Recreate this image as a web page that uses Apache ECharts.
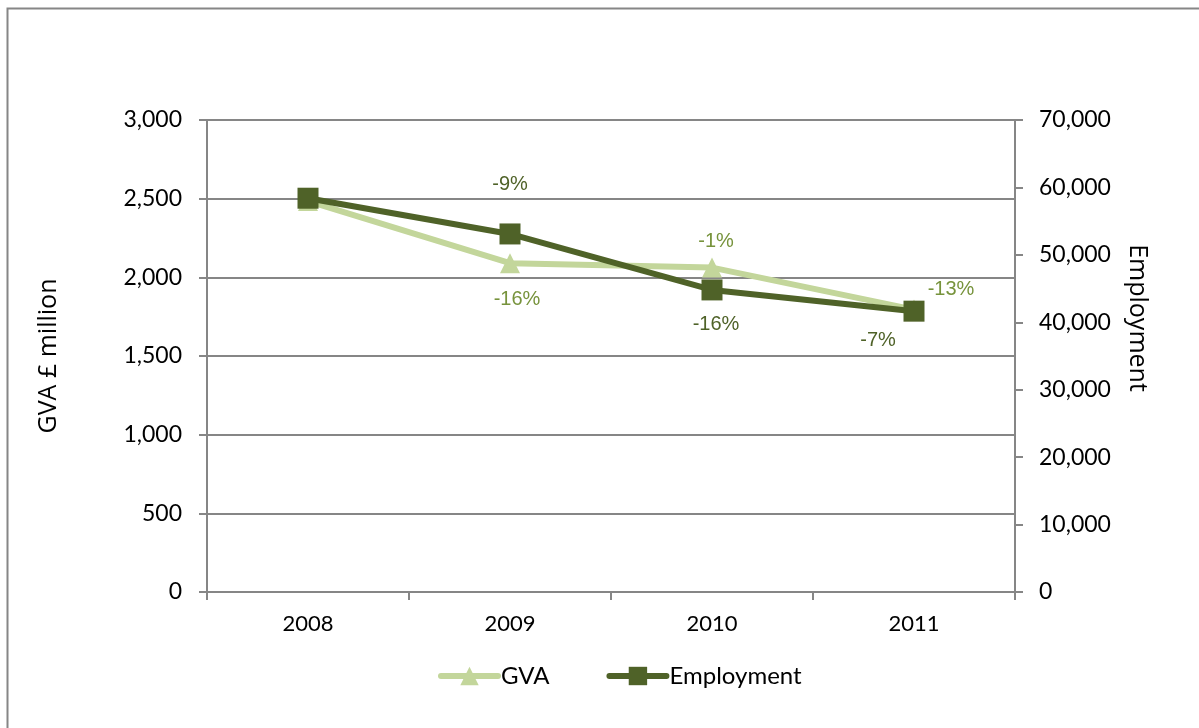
<!DOCTYPE html>
<html>
<head>
<meta charset="utf-8">
<script src="https://cdn.jsdelivr.net/npm/echarts@6/dist/echarts.min.js"></script>
<style>html,body{margin:0;padding:0;background:#fff;}#c{width:1199px;height:728px;}</style>
</head>
<body>
<div id="c"></div>
<script>
const years = ['2008', '2009', '2010', '2011'];
const gva = [2485, 2090, 2062, 1795];
const employment = [58400, 53100, 44800, 41650];
const gvaLabels = ['', '-16%', '-1%', '-13%'];
const empLabels = ['', '-9%', '-16%', '-7%'];
const gvaLabelOffsets = [[0, 0], [7, 36], [4, -26], [37, -20]];
const empLabelOffsets = [[0, 0], [0, -49], [4, 35], [-36, 29]];

const gvaColor = '#c3d69b';
const empColor = '#4f6228';
const gvaLabelColor = '#77933c';
const axisGray = '#868686';
const tickFont = 'Lato, "Open Sans", sans-serif';

function fmt(v) { return Number(v).toLocaleString('en-US'); }

function buildData(values, labels, offsets, color) {
  return values.map((v, i) => ({
    value: v,
    label: {
      show: labels[i] !== '',
      formatter: labels[i],
      position: 'inside',
      offset: offsets[i],
      color: color,
      fontSize: 20,
      fontFamily: '"Liberation Sans", Arial, sans-serif'
    }
  }));
}

const chart = echarts.init(document.getElementById('c'), null, { renderer: 'canvas' });
chart.setOption({
  backgroundColor: '#fff',
  animation: false,
  graphic: [{
    type: 'rect',
    shape: { x: 7.5, y: 8.5, width: 1300, height: 800 },
    style: { fill: 'none', stroke: axisGray, lineWidth: 2 },
    silent: true
  }],
  grid: { left: 207, right: 184, top: 120, bottom: 136, containLabel: false },
  legend: {
    top: 659,
    left: 433,
    itemWidth: 57,
    itemHeight: 23,
    itemGap: 57,
    lineStyle: { width: 6, cap: 'round' },
    textStyle: { fontSize: 24, fontFamily: tickFont, color: '#000', padding: [0, 0, 0, -2] },
    data: ['GVA', 'Employment']
  },
  xAxis: {
    type: 'category',
    data: years,
    boundaryGap: true,
    axisLine: { lineStyle: { color: axisGray, width: 2 } },
    axisTick: { show: true, length: 8, lineStyle: { color: axisGray, width: 2 } },
    axisLabel: { margin: 21, fontSize: 22, fontFamily: tickFont, color: '#000' }
  },
  yAxis: [{
    type: 'value',
    min: 0, max: 3000, interval: 500,
    name: 'GVA £ million',
    nameLocation: 'middle',
    nameRotate: 90,
    nameGap: 146,
    nameTextStyle: { fontSize: 25, fontFamily: '"Open Sans", sans-serif', color: '#000' },
    axisLine: { show: true, lineStyle: { color: axisGray, width: 2 } },
    axisTick: { show: true, length: 8, lineStyle: { color: axisGray, width: 2 } },
    axisLabel: { margin: 25, fontSize: 23, fontFamily: tickFont, color: '#000', formatter: fmt },
    splitLine: { show: true, lineStyle: { color: axisGray, width: 2 } }
  }, {
    type: 'value',
    min: 0, max: 70000, interval: 10000,
    position: 'right',
    name: 'Employment',
    nameLocation: 'middle',
    nameRotate: -90,
    nameGap: 110,
    nameTextStyle: { fontSize: 25, fontFamily: '"Open Sans", sans-serif', color: '#000', padding: [0, 76, 0, 0] },
    axisLine: { show: true, lineStyle: { color: axisGray, width: 2 } },
    axisTick: { show: true, length: 8, lineStyle: { color: axisGray, width: 2 } },
    axisLabel: { margin: 24, fontSize: 23, fontFamily: tickFont, color: '#000', formatter: fmt },
    splitLine: { show: false }
  }],
  series: [{
    name: 'GVA',
    type: 'line',
    yAxisIndex: 0,
    data: buildData(gva, gvaLabels, gvaLabelOffsets, gvaLabelColor),
    symbol: 'triangle',
    symbolSize: 20,
    lineStyle: { color: gvaColor, width: 6 },
    itemStyle: { color: gvaColor },
    z: 2
  }, {
    name: 'Employment',
    type: 'line',
    yAxisIndex: 1,
    data: buildData(employment, empLabels, empLabelOffsets, empColor),
    symbol: 'rect',
    symbolSize: 21,
    lineStyle: { color: empColor, width: 6 },
    itemStyle: { color: empColor },
    z: 3
  }]
});
</script>
</body>
</html>
